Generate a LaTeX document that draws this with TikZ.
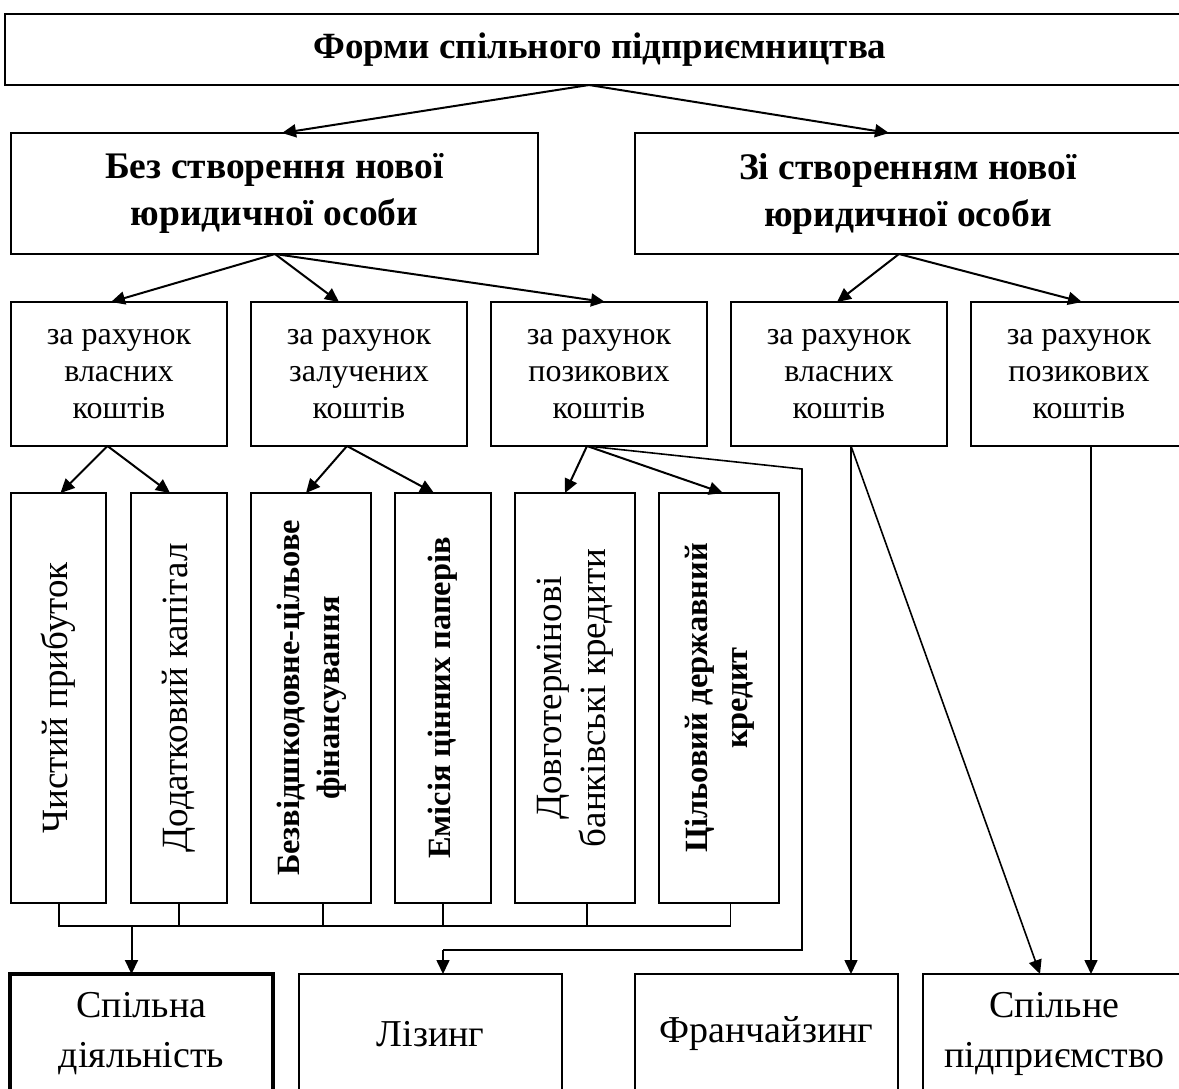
\documentclass[tikz,border=0pt]{standalone}
\usepackage{fontspec}
\setmainfont{Liberation Serif}
\usetikzlibrary{arrows.meta,calc}
\begin{document}
\begin{tikzpicture}[x=1pt,y=-1pt,
  bx/.style={draw, line width=1.8pt, inner sep=0pt, outer sep=0pt, anchor=north west, align=center},
  ar/.style={line width=2pt, -{Triangle[length=14pt,width=13pt]}},
  arthin/.style={line width=1.6pt, -{Triangle[length=14pt,width=13pt]}},
  thinln/.style={line width=1.3pt},
  ftitle/.style={font=\fontsize{37}{42}\selectfont\bfseries},
  fone/.style={font=\fontsize{37.5}{47}\selectfont\bfseries},
  ftwo/.style={font=\fontsize{32}{37}\selectfont},
  fvr/.style={font=\fontsize{37}{44}\selectfont},
  fvb/.style={font=\fontsize{32.4}{40}\selectfont\bfseries},
  fbot/.style={font=\fontsize{38}{50}\selectfont}
]
\useasboundingbox (0,0) rectangle (1179,1088);
% level 0
\node[bx, ftitle, minimum width=1190pt, minimum height=71pt] (top) at (5,14) {Форми спільного підприємництва};
% level 1
\node[bx, fone, minimum width=527pt, minimum height=121pt] (la) at (11,133) {Без створення нової\\юридичної особи};
\node[bx, fone, minimum width=546pt, minimum height=121pt] (lb) at (635,133) {Зі створенням нової\\юридичної особи};
% level 2
\node[bx, ftwo, minimum width=216pt, minimum height=144pt] (ma) at (11,302) {за рахунок\\власних\\коштів};
\node[bx, ftwo, minimum width=216pt, minimum height=144pt] (mb) at (251,302) {за рахунок\\залучених\\коштів};
\node[bx, ftwo, minimum width=216pt, minimum height=144pt] (mc) at (491,302) {за рахунок\\позикових\\коштів};
\node[bx, ftwo, minimum width=216pt, minimum height=144pt] (md) at (731,302) {за рахунок\\власних\\коштів};
\node[bx, ftwo, minimum width=216pt, minimum height=144pt] (me) at (971,302) {за рахунок\\позикових\\коштів};
% vertical boxes
\node[bx, fvr, minimum width=95pt, minimum height=410pt] (va) at (11,493) {\rotatebox{90}{Чистий прибуток}};
\node[bx, fvr, minimum width=96pt, minimum height=410pt] (vb) at (131,493) {\rotatebox{90}{Додатковий капітал}};
\node[bx, fvb, minimum width=120pt, minimum height=410pt] (vc) at (251,493) {\rotatebox{90}{\begin{tabular}{@{}c@{}}Безвідшкодовне-цільове\\фінансування\end{tabular}}};
\node[bx, fvb, minimum width=96pt, minimum height=410pt] (vd) at (395,493) {\rotatebox{90}{Емісія цінних паперів}};
\node[bx, fvr, minimum width=120pt, minimum height=410pt] (ve) at (515,493) {\rotatebox{90}{\begin{tabular}{@{}c@{}}Довготермінові\\банківські кредити\end{tabular}}};
\node[bx, fvb, minimum width=120pt, minimum height=410pt] (vf) at (659,493) {\rotatebox{90}{\begin{tabular}{@{}c@{}}Цільовий державний\\кредит\end{tabular}}};
% bottom boxes
\node[bx, fbot, line width=3.5pt, minimum width=263pt, minimum height=120pt] (ba) at (10,974) {Спільна\\діяльність};
\node[bx, fbot, minimum width=263pt, minimum height=120pt] (bb) at (299,974) {Лізинг};
\node[bx, fbot, minimum width=263pt, minimum height=120pt] (bc) at (635,974) {Франчайзинг};
\node[bx, fbot, minimum width=263pt, minimum height=120pt] (bd) at (923,974) {Спільне\\підприємство};

% connector points
\coordinate (topo) at (589,85);
\coordinate (lao) at (275,254);
\coordinate (lbo) at (899,254);
\coordinate (mao) at (107.5,446);
\coordinate (mbo) at (347,446);
\coordinate (mco) at (587,446);
\coordinate (mdo) at (851,446);
\coordinate (meo) at (1091,446);
\coordinate (lzA) at (802,469);
\coordinate (lzB) at (802,950);
\coordinate (lzC) at (443,950);
\coordinate (brk) at (131.5,926);
\coordinate (bka) at (59,926);
\coordinate (bkb) at (179,926);
\coordinate (bkc) at (323,926);
\coordinate (bkd) at (443,926);
\coordinate (bke) at (587,926);
\coordinate (bkf) at (730.5,926);

% level 0 -> 1
\draw[ar] (topo) -- (282,133);
\draw[ar] (topo) -- (889,133);
% level 1 -> 2
\draw[ar] (lao) -- (111,302);
\draw[ar] (lao) -- (339,302);
\draw[ar] (lao) -- (605,302);
\draw[ar] (lbo) -- (837,302);
\draw[ar] (lbo) -- (1082,302);
% level 2 -> vertical
\draw[ar] (mao) -- (60.5,493);
\draw[ar] (mao) -- (170,493);
\draw[ar] (mbo) -- (306,493);
\draw[ar] (mbo) -- (434,493);
\draw[ar] (mco) -- (565,493);
\draw[ar] (mco) -- (723,493);
% leasing
\draw[line width=1.6pt] (mco) -- (lzA) -- (lzB) -- (lzC);
\draw[arthin] (lzC) -- (bb.north -| lzC);
% franchising / joint venture
\draw[arthin] (mdo) -- (bc.north -| mdo);
\draw[arthin] (mdo) -- (1040,974);
\draw[arthin] (meo) -- (bd.north -| meo);
% bracket under vertical boxes
\draw[thinln] (va.south -| bka) -- (bka) -- (bkf) -- (vf.south -| bkf);
\draw[thinln] (vb.south -| bkb) -- (bkb);
\draw[thinln] (vc.south -| bkc) -- (bkc);
\draw[thinln] (vd.south -| bkd) -- (bkd);
\draw[thinln] (ve.south -| bke) -- (bke);
\draw[ar] (brk) -- (ba.north -| brk);
\end{tikzpicture}
\end{document}
